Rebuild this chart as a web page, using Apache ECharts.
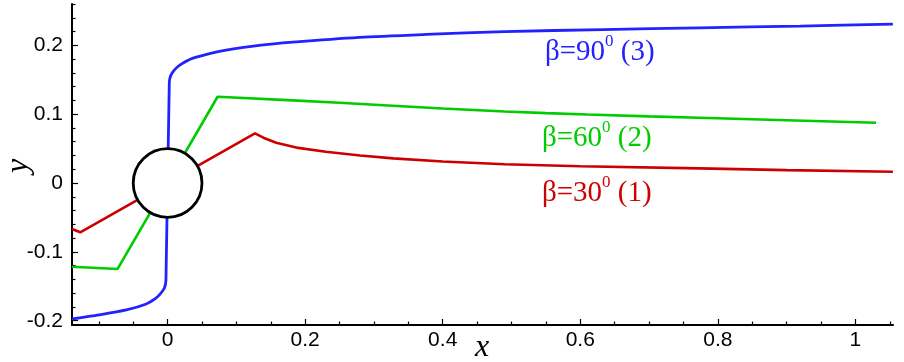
<!DOCTYPE html>
<html>
<head>
<meta charset="utf-8">
<script src="https://cdn.jsdelivr.net/npm/echarts@6/dist/echarts.min.js"></script>
<style>html,body{margin:0;padding:0;background:#fff}#c{width:904px;height:362px}</style>
</head>
<body>
<div id="c"></div>
<script>
// ---- data ----
var blueX = [-0.139,-0.1,-0.06,-0.031,-0.018,-0.012,-0.0048,-0.0024,0.0025,0.005,0.0097,0.016,0.022,0.036,0.061,0.085,0.133,0.182,0.279,0.376,0.49,0.633,0.773,0.92,1.0545];
var blueY = [-0.1975,-0.1916,-0.1843,-0.1756,-0.168,-0.1625,-0.1528,-0.141,0.147,0.157,0.164,0.170,0.174,0.181,0.188,0.193,0.200,0.2046,0.2115,0.2158,0.2200,0.2228,0.2254,0.228,0.2308];
var greenX = [-0.139,-0.0727,0.0727,0.182,0.25,0.327,0.4,0.49,0.55,0.61,0.7,0.773,0.9,1.03];
var greenY = [-0.1215,-0.1248,0.1253,0.1200,0.1165,0.1122,0.1082,0.1038,0.1015,0.0995,0.0968,0.0948,0.0912,0.0875];
var redX = [-0.139,-0.127,0.127,0.14,0.158,0.19,0.23,0.28,0.328,0.4,0.49,0.6,0.773,0.9,1.0545];
var redY = [-0.0668,-0.0716,0.0721,0.0655,0.0585,0.051,0.0454,0.0400,0.0358,0.0312,0.0272,0.0243,0.0213,0.0188,0.0164];
var circleCenter = [0, 0];
var circleRadius = 0.05;
var xMajorTicks = [0, 0.2, 0.4, 0.6, 0.8, 1];
var xMinorTicks = [-0.1, -0.05, 0.05, 0.1, 0.15, 0.25, 0.3, 0.35, 0.45, 0.5, 0.55, 0.65, 0.7, 0.75, 0.85, 0.9, 0.95, 1.05];
var yMajorTicks = [-0.2, -0.1, 0, 0.1, 0.2];
var yMinorTicks = [-0.18, -0.16, -0.14, -0.12, -0.08, -0.06, -0.04, -0.02, 0.02, 0.04, 0.06, 0.08, 0.12, 0.14, 0.16, 0.18, 0.22, 0.24, 0.26];
var xRange = [-0.139, 1.0547];
var yRange = [-0.2062, 0.26];
var xTitle = 'x';
var yTitle = 'y';
var curveLabels = [
  {num: '90', tag: ' (3)', color: '#2222ff'},
  {num: '60', tag: ' (2)', color: '#00cc00'},
  {num: '30', tag: ' (1)', color: '#cc0000'}
];

function zip(a, b) { return a.map(function (v, i) { return [v, b[i]]; }); }

var chart = echarts.init(document.getElementById('c'), null, {renderer: 'canvas'});
var labelFont = 'Liberation Sans, Arial, sans-serif';
var serif = 'Liberation Serif, Times New Roman, serif';

function xAxisDef(major) {
  return {
    type: 'value', min: xRange[0], max: xRange[1], position: 'bottom',
    axisLine: {show: major, onZero: false, lineStyle: {color: '#000', width: 2}},
    axisTick: {show: true, inside: true, length: major ? 6 : 3.5, customValues: major ? xMajorTicks : xMinorTicks, lineStyle: {color: '#000', width: 1.2}},
    axisLabel: {show: major, customValues: xMajorTicks, margin: 5, fontFamily: labelFont, fontSize: 21, color: '#000',
      formatter: function (v) { return String(v); }},
    splitLine: {show: false}
  };
}
function yAxisDef(major) {
  return {
    type: 'value', min: yRange[0], max: yRange[1], position: 'left',
    axisLine: {show: major, onZero: false, lineStyle: {color: '#000', width: 2}},
    axisTick: {show: true, inside: true, length: major ? 6 : 3.5, customValues: major ? yMajorTicks : yMinorTicks, lineStyle: {color: '#000', width: 1.2}},
    axisLabel: {show: major, customValues: yMajorTicks, margin: 9, fontFamily: labelFont, fontSize: 21, color: '#000',
      formatter: function (v) { return String(v); }},
    splitLine: {show: false}
  };
}

var graphics = curveLabels.map(function (l, i) {
  var pos = [[545, 50], [542, 136], [542, 191]][i];
  return {
    type: 'text', left: pos[0], top: pos[1] - 17, z: 10,
    style: {
      text: '{m|β=' + l.num + '}{s|0}{m|' + l.tag + '}',
      rich: {
        m: {fontFamily: serif, fontSize: 29, lineHeight: 34, fill: l.color, verticalAlign: 'bottom'},
        s: {fontFamily: serif, fontSize: 17, lineHeight: 17, fill: l.color, verticalAlign: 'top'}
      }
    }
  };
});
graphics.push({
  type: 'text', x: 482, y: 348, z: 10,
  style: {text: xTitle, fontFamily: serif, fontStyle: 'italic', fontSize: 32, fill: '#000', align: 'center', verticalAlign: 'middle'}
});
graphics.push({
  type: 'text', x: 19, y: 166, rotation: Math.PI / 2, z: 10,
  style: {text: yTitle, fontFamily: serif, fontStyle: 'italic', fontSize: 32, fill: '#000', align: 'center', verticalAlign: 'middle'}
});

var option = {
  animation: false,
  backgroundColor: '#fff',
  grid: {left: 72, right: 11, top: 4, bottom: 37, containLabel: false, outerBoundsMode: 'none'},
  xAxis: [xAxisDef(true), xAxisDef(false)],
  yAxis: [yAxisDef(true), yAxisDef(false)],
  series: [
    {type: 'line', data: zip(redX, redY), showSymbol: false, symbol: 'none', lineStyle: {color: '#cc0000', width: 2.6}, z: 2},
    {type: 'line', data: zip(greenX, greenY), showSymbol: false, symbol: 'none', lineStyle: {color: '#00cc00', width: 2.6}, z: 2},
    {type: 'line', data: zip(blueX, blueY), showSymbol: false, symbol: 'none', smooth: 0.25, lineStyle: {color: '#2222ff', width: 2.8}, z: 2},
    {
      type: 'custom', z: 5, clip: false,
      data: [[circleCenter[0], circleCenter[1], circleRadius]],
      renderItem: function (params, api) {
        var c = api.coord([api.value(0), api.value(1)]);
        var r = api.size([api.value(2), 0])[0];
        return {type: 'circle', shape: {cx: c[0], cy: c[1], r: r}, style: {fill: '#fff', stroke: '#000', lineWidth: 2.8}};
      }
    }
  ],
  graphic: graphics
};
chart.setOption(option);
</script>
</body>
</html>
